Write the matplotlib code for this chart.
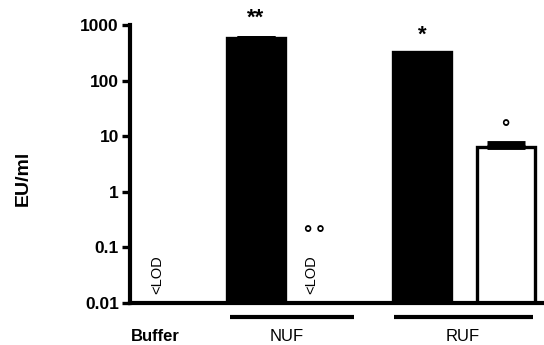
import numpy as np
import matplotlib
matplotlib.use("Agg")
import matplotlib.pyplot as plt
from matplotlib.transforms import blended_transform_factory

plt.rcParams['font.family'] = ['Liberation Sans', 'DejaVu Sans']

# ---- data ----
groups = ["Buffer", "NUF", "RUF"]
group_weights = ["bold", "normal", "normal"]
group_centers = [25, 157, 333]
group_line_spans = [None, (100, 224), (264, 403)]

bar_positions = [27, 125.5, 181, 292, 375.5]
bar_values = [np.nan, 580, np.nan, 325, 6.4]       # nan = below LOD
bar_errors = [0, 15, 0, 0, 1.1]
bar_fill = ["black", "black", "white", "black", "white"]
lod_flags = [True, False, True, False, False]
annotations = ["", "**", "°\u2009°", "*", "°"]
annotation_x_shift = [0, 0, 3, 0, 0]
annotation_y = [None, 1337, 0.174, 661, 13.5]

yticks = [0.01, 0.1, 1, 10, 100, 1000]
ytick_labels = ["0.01", "0.1", "1", "10", "100", "1000"]

# ---- figure ----
fig = plt.figure(figsize=(5.44, 3.45), dpi=100)
ax = fig.add_axes([130/544, 42/345, 413/544, 278/345])
ax.set_yscale('log')
ax.set_ylim(0.01, 1000)
ax.set_xlim(0, 413)

bw = 58
for x, v, e, c, lod in zip(bar_positions, bar_values, bar_errors, bar_fill, lod_flags):
    if lod or np.isnan(v):
        ax.text(x, 0.033, "<LOD", rotation=90, ha='center', va='center',
                fontsize=10.5, fontweight='normal')
        continue
    ax.bar(x, v - 0.01, bottom=0.01, width=bw, color=c, edgecolor='black',
           linewidth=2.4, zorder=2)
    if e > 0:
        ax.errorbar(x, v, yerr=[[0], [e]], fmt='none', ecolor='black',
                    elinewidth=2.4, capsize=14, capthick=3.5, zorder=3)

for x, dx, a, ay in zip(bar_positions, annotation_x_shift, annotations, annotation_y):
    if a:
        ax.text(x + dx, ay, a, ha='center', va='center',
                fontsize=16 if '*' in a else 15, fontweight='bold')

ax.set_yticks(yticks)
ax.set_yticklabels(ytick_labels)
ax.yaxis.set_minor_locator(matplotlib.ticker.NullLocator())
ax.set_xticks([])
ax.tick_params(axis='y', length=6, width=2.4, labelsize=12.5, pad=2)
for lab in ax.get_yticklabels():
    lab.set_fontweight('bold')
for s in ['top', 'right']:
    ax.spines[s].set_visible(False)
for s in ['left', 'bottom']:
    ax.spines[s].set_linewidth(3)

ax.set_ylabel("EU/ml", fontsize=14, fontweight='bold')
ax.yaxis.set_label_coords(-0.238, 0.45)

tr = blended_transform_factory(ax.transData, ax.transAxes)
for g, w, cx, span in zip(groups, group_weights, group_centers, group_line_spans):
    if span is not None:
        ax.plot(span, [-0.05, -0.05], color='black', linewidth=3, transform=tr,
                clip_on=False, solid_capstyle='butt')
    ax.text(cx, -0.12, g, ha='center', va='center', fontsize=12,
            fontweight=w, transform=tr)

fig.savefig("out.png", dpi=100)
